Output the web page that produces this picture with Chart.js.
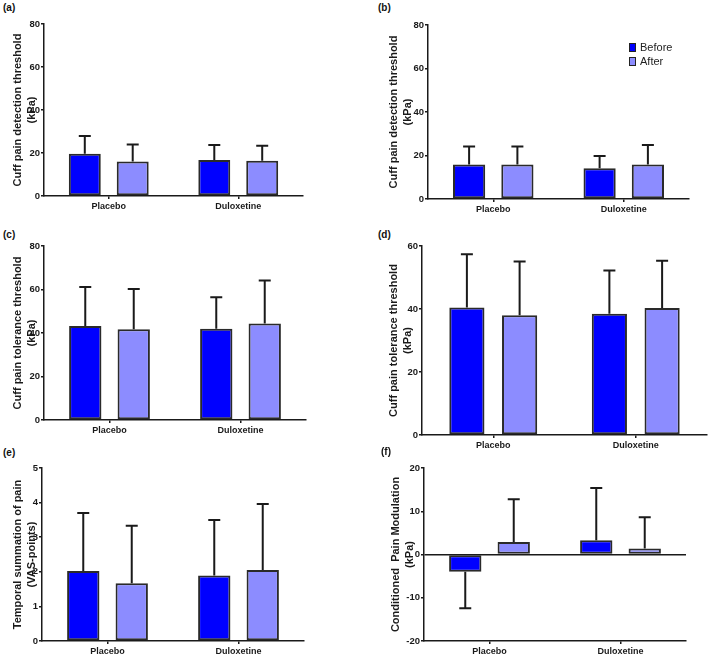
<!DOCTYPE html>
<html>
<head>
<meta charset="utf-8">
<script src="https://cdn.jsdelivr.net/npm/chart.js@4.4.1/dist/chart.umd.min.js"></script>
<style>
  body { margin: 0; background: #fff; width: 709px; height: 655px; position: relative; overflow: hidden; font-family: "Liberation Sans", Arial, sans-serif; }
  canvas { position: absolute; }
  .tag { position: absolute; font: bold 10px "Liberation Sans", Arial, sans-serif; color: #111; line-height: 10px; }
  .legend { position: absolute; left: 629px; top: 40px; font: 11px "Liberation Sans", Arial, sans-serif; color: #222; }
  .legend div { height: 14px; line-height: 14px; white-space: nowrap; }
  .legend span { display: inline-block; width: 5px; height: 7px; border: 1px solid #222; margin-right: 4px; vertical-align: -1px; }
</style>
</head>
<body>
<script>
const categories = ['Placebo', 'Duloxetine'];
const seriesNames = ['Before', 'After'];
const seriesColors = ['#0000ff', '#8c8cff'];

// (a) cuff pain detection threshold
const aBefore = [19.7, 16.7];
const aBeforeSd = [8.2, 7.0];
const aAfter = [16.0, 16.4];
const aAfterSd = [8.0, 7.0];

// (b) cuff pain detection threshold
const bBefore = [15.9, 14.1];
const bBeforeSd = [8.2, 5.7];
const bAfter = [15.9, 15.9];
const bAfterSd = [8.2, 8.9];

// (c) cuff pain tolerance threshold
const cBefore = [43.2, 42.0];
const cBeforeSd = [18.0, 14.4];
const cAfter = [41.7, 44.4];
const cAfterSd = [18.5, 19.7];

// (d) cuff pain tolerance threshold
const dBefore = [40.5, 38.5];
const dBeforeSd = [16.9, 13.7];
const dAfter = [38.0, 40.3];
const dAfterSd = [17.1, 15.0];

// (e) temporal summation
const eBefore = [2.02, 1.89];
const eBeforeSd = [1.68, 1.61];
const eAfter = [1.67, 2.05];
const eAfterSd = [1.66, 1.91];

// (f) conditioned pain modulation
const fBefore = [-4.0, 3.3];
const fBeforeSd = [8.4, 12.1];
const fAfter = [2.9, 1.4];
const fAfterSd = [9.9, 7.2];

// y axis [min, max, step]
const aTicks = [0, 80, 20];
const bTicks = [0, 80, 20];
const cTicks = [0, 80, 20];
const dTicks = [0, 60, 20];
const eTicks = [0, 5, 1];
const fTicks = [-20, 20, 10];

const detectTitle = ['Cuff pain detection threshold', '(kPa)'];
const toleranceTitle = ['Cuff pain tolerance threshold', '(kPa)'];
const tsTitle = ['Temporal summation of pain', '(VAS-points)'];
const cpmTitle = ['Conditioned  Pain Modulation', '(kPa)'];

const FONT = '"Liberation Sans", Arial, sans-serif';
const INK = '#1a1a1a';

const panels = [
  { tag: '(a)', tagPos: [3, 3], title: detectTitle, data: [aBefore, aAfter], sd: [aBeforeSd, aAfterSd], ticks: aTicks,
    box: [0, 14, 354, 200], yw: 44, pad: [10, 51], xh: 18 },
  { tag: '(b)', tagPos: [378, 3], title: detectTitle, data: [bBefore, bAfter], sd: [bBeforeSd, bAfterSd], ticks: bTicks,
    box: [376, 15, 333, 202], yw: 52, pad: [10, 20], xh: 18, legend: true },
  { tag: '(c)', tagPos: [3, 230], title: toleranceTitle, data: [cBefore, cAfter], sd: [cBeforeSd, cAfterSd], ticks: cTicks,
    box: [0, 236, 354, 202], yw: 44, pad: [10, 48], xh: 18 },
  { tag: '(d)', tagPos: [378, 230], title: toleranceTitle, data: [dBefore, dAfter], sd: [dBeforeSd, dAfterSd], ticks: dTicks,
    box: [376, 236, 333, 217], yw: 46, pad: [10, 2], xh: 18 },
  { tag: '(e)', tagPos: [3, 448], title: tsTitle, data: [eBefore, eAfter], sd: [eBeforeSd, eAfterSd], ticks: eTicks,
    box: [0, 458, 354, 197], yw: 42, pad: [10, 50], xh: 14 },
  { tag: '(f)', tagPos: [381, 447], title: cpmTitle, data: [fBefore, fAfter], sd: [fBeforeSd, fAfterSd], ticks: fTicks,
    box: [378, 458, 331, 197], yw: 46, pad: [10, 23], xh: 14, zero: true }
];

// one-sided SD bars, drawn away from zero
const errorBars = {
  id: 'errorBars',
  afterDatasetsDraw(chart) {
    const ctx = chart.ctx;
    const y = chart.scales.y;
    ctx.save();
    ctx.strokeStyle = INK;
    ctx.lineWidth = 2;
    chart.data.datasets.forEach((ds, i) => {
      chart.getDatasetMeta(i).data.forEach((bar, j) => {
        const v = ds.data[j];
        const end = y.getPixelForValue(v >= 0 ? v + ds.sd[j] : v - ds.sd[j]);
        ctx.beginPath();
        ctx.moveTo(bar.x, bar.y);
        ctx.lineTo(bar.x, end);
        ctx.moveTo(bar.x - 6, end);
        ctx.lineTo(bar.x + 6, end);
        ctx.stroke();
      });
    });
    ctx.restore();
  }
};

panels.forEach(p => {
  const tag = document.createElement('div');
  tag.className = 'tag';
  tag.textContent = p.tag;
  tag.style.left = p.tagPos[0] + 'px';
  tag.style.top = p.tagPos[1] + 'px';
  document.body.appendChild(tag);

  const cv = document.createElement('canvas');
  cv.width = p.box[2];
  cv.height = p.box[3];
  cv.style.left = p.box[0] + 'px';
  cv.style.top = p.box[1] + 'px';
  document.body.appendChild(cv);

  new Chart(cv, {
    type: 'bar',
    data: {
      labels: categories,
      datasets: seriesNames.map((name, i) => ({
        label: name,
        data: p.data[i],
        sd: p.sd[i],
        backgroundColor: seriesColors[i],
        borderColor: '#2a2a2a',
        borderWidth: 2,
        borderSkipped: false,
        barPercentage: 0.667,
        categoryPercentage: 0.74
      }))
    },
    options: {
      responsive: false,
      animation: false,
      devicePixelRatio: 1,
      layout: { padding: { left: 0, top: p.pad[0], right: p.pad[1], bottom: 0 } },
      plugins: { legend: { display: false }, tooltip: { enabled: false } },
      scales: {
        x: {
          afterFit: s => { s.height = p.xh; },
          border: { display: true, color: INK, width: 1.5 },
          grid: { offset: false, drawOnChartArea: false, tickLength: 3, color: INK, lineWidth: 1.5 },
          ticks: { color: INK, padding: 2, maxRotation: 0, font: { family: FONT, size: 9, weight: 'bold' } }
        },
        y: {
          min: p.ticks[0],
          max: p.ticks[1],
          afterFit: s => { s.width = p.yw; },
          border: { display: true, color: INK, width: 1.5 },
          grid: {
            drawOnChartArea: !!p.zero,
            color: c => (c.tick && c.tick.value === 0) ? INK : 'rgba(0,0,0,0)',
            lineWidth: 1.5,
            tickLength: 3,
            tickColor: INK,
            tickWidth: 1.5
          },
          ticks: { stepSize: p.ticks[2], color: INK, padding: 1, font: { family: FONT, size: 9.5, weight: 'bold' } },
          title: { display: true, text: p.title, color: INK, padding: { top: 11, bottom: 0 }, font: { family: FONT, size: 11, weight: 'bold', lineHeight: 1.3 } }
        }
      }
    },
    plugins: [errorBars]
  });

  if (p.legend) {
    const lg = document.createElement('div');
    lg.className = 'legend';
    seriesNames.forEach((name, i) => {
      const row = document.createElement('div');
      const sw = document.createElement('span');
      sw.style.background = seriesColors[i];
      row.appendChild(sw);
      row.appendChild(document.createTextNode(name));
      lg.appendChild(row);
    });
    document.body.appendChild(lg);
  }
});
</script>
</body>
</html>
